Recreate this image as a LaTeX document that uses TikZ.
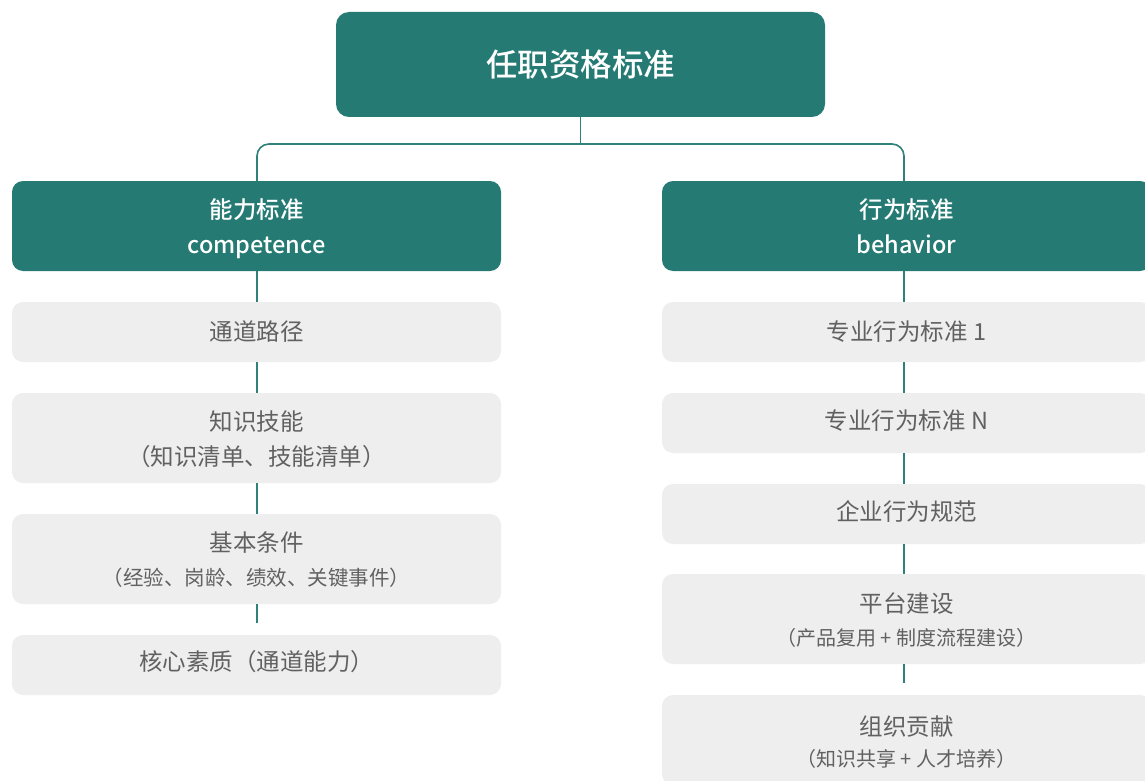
\documentclass[tikz,border=0pt]{standalone}
\usepackage{fontspec}
\setmainfont{Noto Sans CJK SC}
\newfontfamily\medfont{Noto Sans CJK SC Medium}
\definecolor{tealc}{HTML}{257B74}
\definecolor{grayc}{HTML}{EDEEED}
\definecolor{txtc}{HTML}{616161}
\definecolor{linec}{HTML}{2F817A}
\begin{document}
\begin{tikzpicture}[x=1pt,y=-1pt,
  box/.style={rounded corners=11pt, minimum width=489pt, inner sep=0pt, outer sep=0pt},
  topbox/.style={box, fill=tealc, minimum height=105pt, rounded corners=13pt, text=white, font=\medfont\fontsize{31.5}{36}\selectfont},
  hdr/.style={box, fill=tealc, minimum height=90pt},
  gbox/.style={box, fill=grayc, text=txtc, font=\fontsize{23.5}{28}\selectfont},
  raise/.style={text height=20.7pt, text depth={2.8pt+2*#1}},
  hdrtxt/.style={text=white, inner sep=0pt, font=\medfont\fontsize{23.5}{28}\selectfont},
  gtxt/.style={text=txtc, inner sep=0pt, font=\fontsize{23.5}{28}\selectfont},
  gsub/.style={text=txtc, inner sep=0pt, font=\fontsize{20.5}{24}\selectfont},
  conn/.style={draw=linec, line width=1.6pt}
]
\clip (0,0) rectangle (1145,781);
\fill[white] (0,0) rectangle (1145,781);

% top
\node[topbox] (top) at (580.5,64.5) {任职资格标准};

% headers
\node[hdr] (lh) at (256.5,226) {};
\node[hdrtxt] (lht1) at (256.5,209.5) {能力标准};
\node[hdrtxt, anchor=base] (lht2) at (256.5,253) {competence};
\node[hdr] (rh) at (906.5,226) {};
\node[hdrtxt] (rht1) at (906.5,209.5) {行为标准};
\node[hdrtxt, anchor=base] (rht2) at (906.5,253) {behavior};

% left column
\node[gbox, minimum height=60pt] (l1) at (256.5,332) {通道路径};
\node[gbox, minimum height=90pt] (l2) at (256.5,438) {};
\node[gtxt] (l2a) at (256.5,422) {知识技能};
\node[gtxt] (l2b) at (256.5,457) {（知识清单、技能清单）};
\node[gbox, minimum height=90pt] (l3) at (256.5,559) {};
\node[gtxt] (l3a) at (256.5,543) {基本条件};
\node[gsub] (l3b) at (256.5,578) {（经验、岗龄、绩效、关键事件）};
\node[gbox, minimum height=60pt, raise=3pt] (l4) at (256.5,665) {核心素质（通道能力）};

% right column
\node[gbox, minimum height=60pt] (r1) at (906.5,332) {专业行为标准 1};
\node[gbox, minimum height=60pt, raise=2.5pt] (r2) at (906.5,423) {专业行为标准 N};
\node[gbox, minimum height=60pt, raise=2pt] (r3) at (906.5,514) {企业行为规范};
\node[gbox, minimum height=90pt] (r4) at (906.5,619) {};
\node[gtxt] (r4a) at (906.5,603.5) {平台建设};
\node[gsub, font=\fontsize{20}{24}\selectfont] (r4b) at (906.5,637.5) {（产品复用 + 制度流程建设）};
\node[gbox, minimum height=90pt] (r5) at (906.5,740) {};
\node[gtxt] (r5a) at (906.5,727) {组织贡献};
\node[gsub, font=\fontsize{20}{24}\selectfont] (r5b) at (906.5,759) {（知识共享 + 人才培养）};

% connectors
\coordinate (j) at (580.5,144);
\draw[conn] (top.south) -- (j);
\draw[conn, rounded corners=12pt] ([xshift=0.5pt]lh.north) |- (j) -| ([xshift=-2.5pt]rh.north);

\draw[conn] ([xshift=0.5pt]lh.south) -- ([xshift=0.5pt]l1.north);
\draw[conn] ([xshift=0.5pt]l1.south) -- ([xshift=0.5pt]l2.north);
\draw[conn] ([xshift=0.5pt]l2.south) -- ([xshift=0.5pt]l3.north);
\draw[conn, shorten >=12pt] ([xshift=0.5pt]l3.south) -- ([xshift=0.5pt]l4.north);

\draw[conn] ([xshift=-2.5pt]rh.south) -- ([xshift=-2.5pt]r1.north);
\draw[conn] ([xshift=-2.5pt]r1.south) -- ([xshift=-2.5pt]r2.north);
\draw[conn] ([xshift=-2.5pt]r2.south) -- ([xshift=-2.5pt]r3.north);
\draw[conn] ([xshift=-2.5pt]r3.south) -- ([xshift=-2.5pt]r4.north);
\draw[conn, shorten >=12pt] ([xshift=-2.5pt]r4.south) -- ([xshift=-2.5pt]r5.north);
\end{tikzpicture}
\end{document}
